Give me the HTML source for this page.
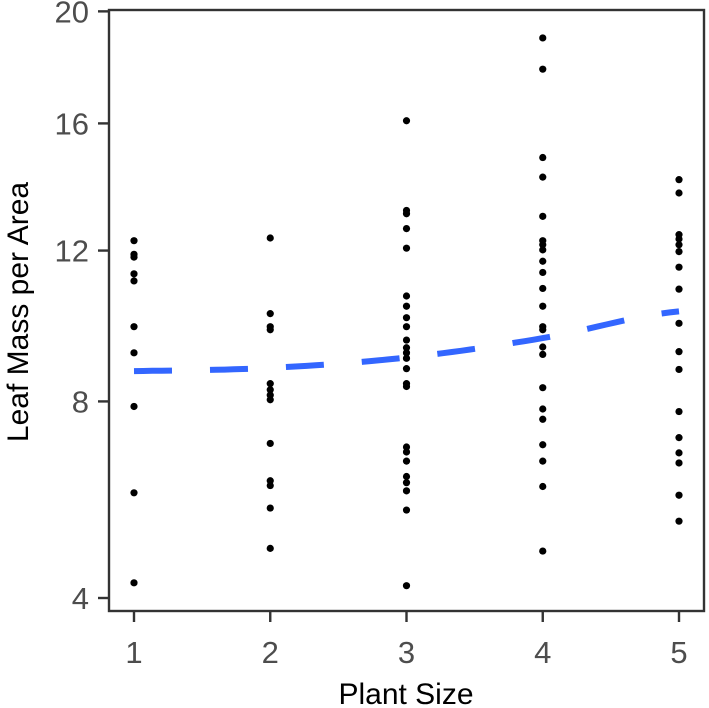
<!DOCTYPE html>
<html><head><meta charset="utf-8"><style>
html,body{margin:0;padding:0;background:#fff;}
svg{display:block;font-family:"Liberation Sans",sans-serif;}
</style></head><body>
<svg id="chart" width="709" height="708"></svg>
<script>
const categories=[1,2,3,4,5];
const group1=[12.29,11.89,11.81,11.33,11.13,9.88,9.20,7.88,5.97,4.26];
const group2=[12.37,10.23,9.88,9.80,8.43,8.28,8.15,8.04,7.03,6.22,6.12,5.66,4.88];
const group3=[16.09,13.20,13.10,12.65,12.07,10.71,10.43,10.12,9.88,9.53,9.33,9.20,9.06,8.80,8.43,8.36,6.95,6.84,6.64,6.31,6.18,6.01,5.62,4.21];
const group4=[19.01,17.88,14.87,14.24,13.02,12.29,12.17,12.02,11.69,11.37,10.92,10.43,9.88,9.80,9.35,9.16,8.33,7.82,7.58,7.00,6.64,6.10,4.83];
const group5=[14.16,13.74,12.47,12.34,12.17,11.97,11.52,10.90,9.97,9.23,8.78,7.76,7.16,6.82,6.60,5.92,5.40];
const trend=[8.74,8.82,9.08,9.58,10.29];
const yTicks=[4,8,12,16,20];

const NS="http://www.w3.org/2000/svg";
const svg=document.getElementById('chart');
const L=109,R=704,T=10,B=611;
function x(v){return 134+(v-1)*136.25;}
function y(v){return 598-237.3*(Math.sqrt(v)-2);}
function mk(tag,attrs,parent){const e=document.createElementNS(NS,tag);for(const k in attrs)e.setAttribute(k,attrs[k]);(parent||svg).appendChild(e);return e;}

const frame=mk('rect',{x:L,y:T,width:R-L,height:B-T,fill:'#fff',stroke:'#333','stroke-width':2.4});



const groups=[group1,group2,group3,group4,group5];
groups.forEach((g,i)=>{
  g.forEach(v=>{
    const c=mk('circle',{cx:x(categories[i]),cy:y(v),r:3.6,fill:'#000'});
    
    
  });
});

let d='';
const n=60;
for(let k=0;k<=n;k++){
  const t=1+4*k/n;
  const i=Math.min(3,Math.floor(t-1));
  const f=t-1-i;
  const p0=trend[Math.max(0,i-1)],p1=trend[i],p2=trend[i+1],p3=trend[Math.min(4,i+2)];
  const v=0.5*((2*p1)+(-p0+p2)*f+(2*p0-5*p1+4*p2-p3)*f*f+(-p0+3*p1-3*p2+p3)*f*f*f);
  d+=(k?'L':'M')+x(t).toFixed(1)+','+y(v).toFixed(1);
}
const tl=mk('path',{d:d,fill:'none',stroke:'#3366ff','stroke-width':6,'stroke-dasharray':'38 38'});



yTicks.forEach(v=>{
  const tk=mk('line',{x1:98,x2:L,y1:y(v),y2:y(v),stroke:'#333','stroke-width':2.4});
  
  
  const t=mk('text',{x:89,y:y(v)+11,'text-anchor':'end','font-size':31,fill:'#4d4d4d'});
  t.textContent=v;
  
  
});
categories.forEach(c=>{
  const tk=mk('line',{x1:x(c),x2:x(c),y1:B,y2:622,stroke:'#333','stroke-width':2.4});
  
  
  const t=mk('text',{x:x(c),y:663,'text-anchor':'middle','font-size':31,fill:'#4d4d4d'});
  t.textContent=c;
  
  
});
const xt=mk('text',{x:406,y:704,'text-anchor':'middle','font-size':30,fill:'#000'});
xt.textContent='Plant Size';


const yt=mk('text',{x:0,y:0,'text-anchor':'middle','font-size':30,fill:'#000',transform:'translate(28,312) rotate(-90)'});
yt.textContent='Leaf Mass per Area';


</script>
</body></html>
